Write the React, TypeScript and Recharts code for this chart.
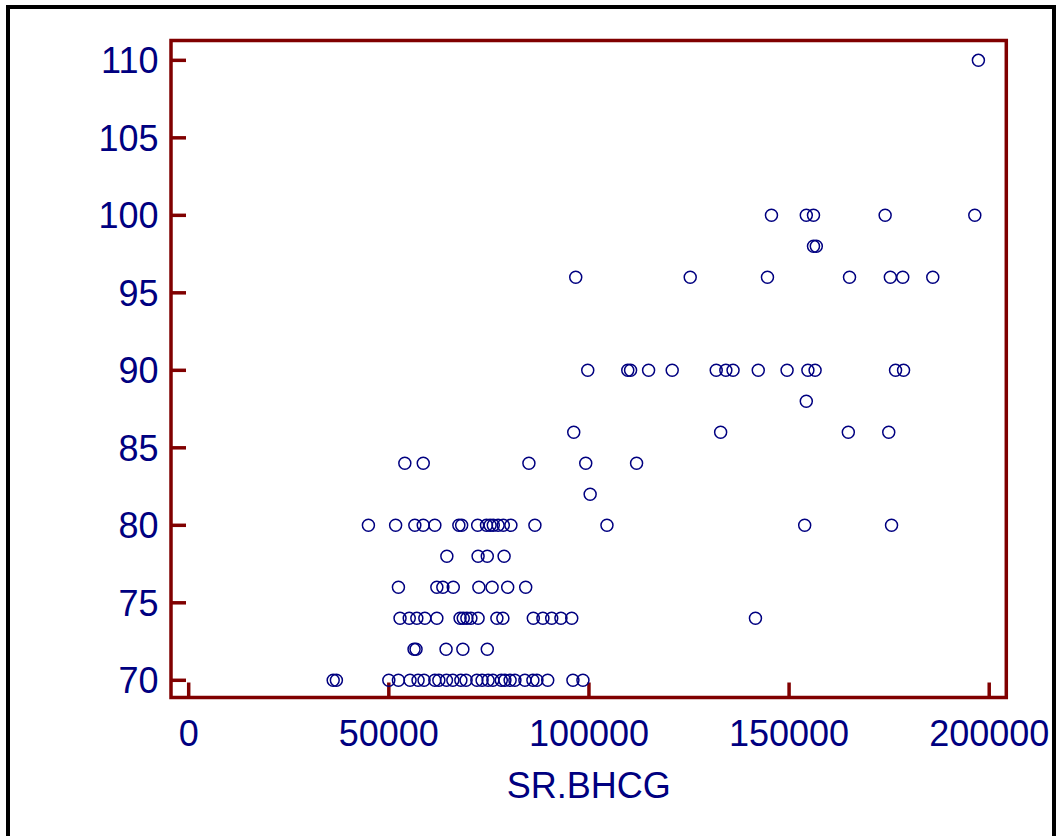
import React from 'react';
import { ScatterChart, Scatter, XAxis, YAxis, ReferenceArea } from 'recharts';

const xTicks = [0, 50000, 100000, 150000, 200000];
const yTicks = [70, 75, 80, 85, 90, 95, 100, 105, 110];
const xDomain = [-4420, 204270];
const yDomain = [68.89, 111.28];

// SR.BHCG values grouped by the y level they sit on
const at110 = [197300];
const at100 = [145600, 154300, 156100, 174000, 196400];
const at98 = [156100, 156800];
const at96 = [96700, 125300, 144600, 165100, 175300, 178400, 185900];
const at90 = [99700, 109700, 110400, 114900, 120800, 131800, 134200, 136000, 142300, 149500, 154700, 156500, 176600, 178600];
const at88 = [154300];
const at86 = [96200, 132900, 164800, 174900];
const at84 = [54000, 58600, 85000, 99200, 111900];
const at82 = [100300];
const at80 = [44900, 51700, 56500, 58600, 61500, 67500, 68200, 72200, 74400, 75300, 76100, 77300, 78600, 80500, 86500, 104500, 153900, 175600];
const at78 = [64500, 72300, 74600, 78800];
const at76 = [52400, 62000, 63500, 66100, 72500, 75800, 79700, 84200];
const at74 = [52800, 55100, 57000, 59000, 62000, 67800, 68600, 69500, 70500, 72300, 77000, 78500, 86100, 88500, 90700, 93000, 95700, 141600];
const at72 = [56300, 56800, 64300, 68500, 74600];
const at70 = [36100, 36900, 50000, 52400, 55300, 57300, 58800, 61500, 62500, 64400, 66000, 68000, 69300, 72000, 73300, 74800, 76000, 78100, 79000, 80300, 81500, 84000, 86000, 87000, 89700, 96000, 98500];

const rows: [number, number[]][] = [
  [110, at110], [100, at100], [98, at98], [96, at96], [90, at90], [88, at88],
  [86, at86], [84, at84], [82, at82], [80, at80], [78, at78], [76, at76],
  [74, at74], [72, at72], [70, at70],
];

const data = rows.flatMap(([y, xs]) => xs.map((x) => ({ bhcg: x, value: y })));

const NAVY = '#000080';
const MAROON = '#800000';
const FONT = 'Arial, "Liberation Sans", sans-serif';

const Ring = (p: any) => (
  <circle cx={p.cx} cy={p.cy} r={6} fill="none" stroke={NAVY} strokeWidth={1.5} />
);

export default function App() {
  return (
    <div style={{ position: 'absolute', left: 0, top: 0, width: 1057, height: 836, overflow: 'hidden', background: '#fff' }}>
      <div style={{ position: 'absolute', left: 6, top: 5, width: 1050, height: 900, border: '4px solid #000', boxSizing: 'border-box' }} />
      <div style={{ position: 'absolute', left: 0, top: 0 }}>
        <ScatterChart width={1057} height={836} margin={{ top: 40.5, right: 50.7, bottom: 38.5, left: 71 }}>
          <XAxis
            type="number"
            dataKey="bhcg"
            domain={xDomain}
            ticks={xTicks}
            interval={0}
            allowDataOverflow
            height={100}
            axisLine={false}
            tickSize={-15}
            tickMargin={37.5}
            tickLine={{ stroke: MAROON, strokeWidth: 3.5 }}
            tick={{ fill: NAVY, fontSize: 36, fontFamily: FONT }}
            label={{ value: 'SR.BHCG', position: 'insideBottom', offset: 0, fill: NAVY, fontSize: 36, fontFamily: FONT }}
          />
          <YAxis
            type="number"
            dataKey="value"
            domain={yDomain}
            ticks={yTicks}
            interval={0}
            allowDataOverflow
            width={100}
            axisLine={false}
            tickSize={-15}
            tickMargin={27.5}
            tickLine={{ stroke: MAROON, strokeWidth: 3.5 }}
            tick={{ fill: NAVY, fontSize: 36, fontFamily: FONT }}
          />
          <ReferenceArea
            x1={xDomain[0]}
            x2={xDomain[1]}
            y1={yDomain[0]}
            y2={yDomain[1]}
            fill="none"
            stroke={MAROON}
            strokeWidth={3.5}
            ifOverflow="visible"
          />
          <Scatter data={data} shape={Ring} isAnimationActive={false} />
        </ScatterChart>
      </div>
    </div>
  );
}
